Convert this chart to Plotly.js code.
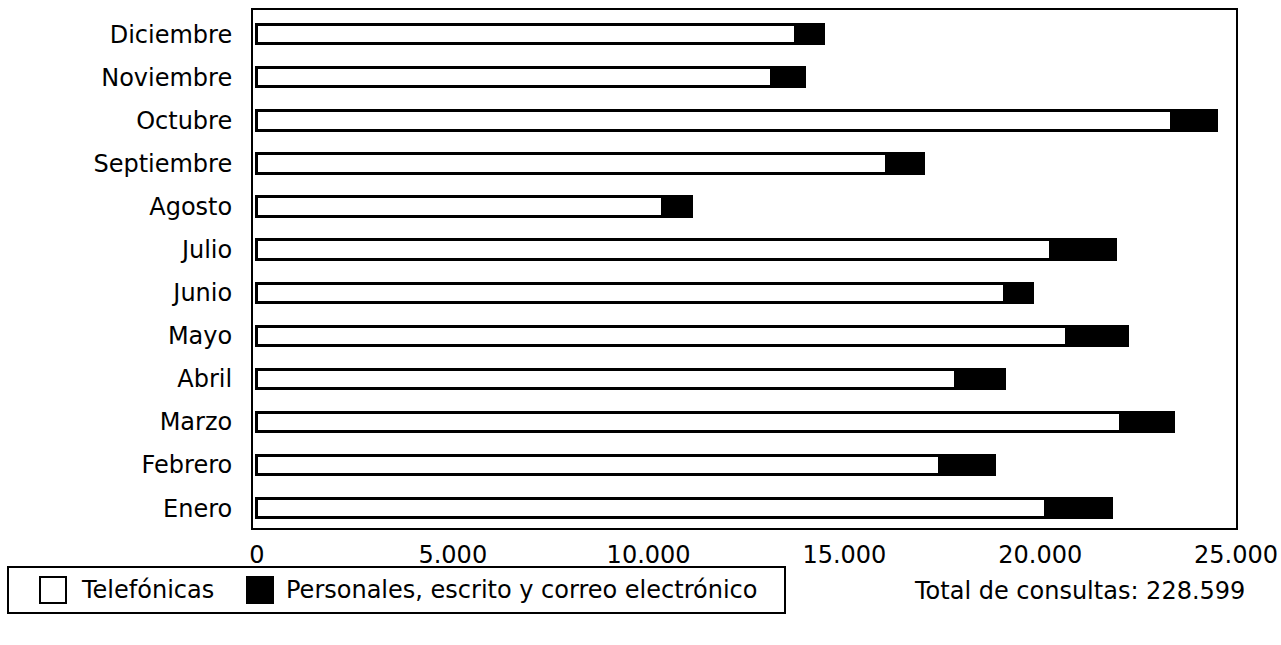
<!DOCTYPE html>
<html>
<head>
<meta charset="utf-8">
<script src="https://cdn.plot.ly/plotly-3.0.1.min.js"></script>
<style>
  html, body { margin: 0; padding: 0; background: #fff; }
  #chart { width: 1281px; height: 645px; }
</style>
</head>
<body>
<div id="chart"></div>
<script>
const months = ["Enero", "Febrero", "Marzo", "Abril", "Mayo", "Junio",
                "Julio", "Agosto", "Septiembre", "Octubre", "Noviembre", "Diciembre"];
const telefonicas = [20130, 17440, 22040, 17830, 20660, 19080,
                     20270, 10350, 16080, 23360, 13130, 13760];
const personales = [1700, 1390, 1360, 1250, 1560, 730,
                    1660, 740, 930, 1140, 850, 700];
const xTicks = [0, 5000, 10000, 15000, 20000, 25000];
const seriesNames = ["Telefónicas", "Personales, escrito y correo electrónico"];
const totalText = "Total de consultas: 228.599";

const FONT = "DejaVu Sans, Liberation Sans, Arial, sans-serif";
const FS = 24;

// plot-area geometry in pixels (for placing the legend box and note)
const W = 1281, H = 645;
const M = { l: 253, r: 45, t: 10, b: 117 };
const PW = W - M.l - M.r, PH = H - M.t - M.b;
const px = x => (x - M.l) / PW;          // page px -> paper x
const py = y => (H - M.b - y) / PH;      // page px -> paper y

const traces = [
  {
    type: "bar", orientation: "h", name: seriesNames[0],
    y: months, x: telefonicas,
    marker: { color: "#ffffff", line: { color: "#000000", width: 3 } },
    hoverinfo: "x+y"
  },
  {
    type: "bar", orientation: "h", name: seriesNames[1],
    y: months, x: personales,
    marker: { color: "#000000", line: { color: "#000000", width: 3 } },
    hoverinfo: "x+y"
  }
];

const legendBox = { x0: 8, x1: 785, y0: 567, y1: 613 };
const sw1 = { x0: 40, x1: 66, y0: 577, y1: 603 };
const sw2 = { x0: 247, x1: 273, y0: 577, y1: 603 };

const layout = {
  width: W, height: H,
  margin: M,
  paper_bgcolor: "#ffffff", plot_bgcolor: "#ffffff",
  font: { family: FONT, size: FS, color: "#000000" },
  separators: ",.",
  barmode: "stack",
  bargap: 0.55,
  showlegend: false,
  xaxis: {
    range: [-102, 25000],
    tickvals: xTicks,
    tickformat: ",d",
    showgrid: false, zeroline: false,
    showline: true, mirror: true, linecolor: "#000000", linewidth: 2,
    ticks: "outside", ticklen: 4, tickcolor: "rgba(0,0,0,0)",
    ticklabeloverflow: "allow",
    tickfont: { family: FONT, size: FS, color: "#000000" },
    fixedrange: true
  },
  yaxis: {
    type: "category",
    categoryorder: "array", categoryarray: months,
    range: [-0.46, 11.56],
    showgrid: false, zeroline: false,
    showline: true, mirror: true, linecolor: "#000000", linewidth: 2,
    ticks: "outside", ticklen: 14, tickcolor: "rgba(0,0,0,0)",
    tickfont: { family: FONT, size: FS, color: "#000000" },
    fixedrange: true
  },
  shapes: [
    { type: "rect", xref: "paper", yref: "paper",
      x0: px(legendBox.x0), x1: px(legendBox.x1), y0: py(legendBox.y1), y1: py(legendBox.y0),
      line: { color: "#000000", width: 2 }, fillcolor: "#ffffff", layer: "below" },
    { type: "rect", xref: "paper", yref: "paper",
      x0: px(sw1.x0), x1: px(sw1.x1), y0: py(sw1.y1), y1: py(sw1.y0),
      line: { color: "#000000", width: 2 }, fillcolor: "#ffffff" },
    { type: "rect", xref: "paper", yref: "paper",
      x0: px(sw2.x0), x1: px(sw2.x1), y0: py(sw2.y1), y1: py(sw2.y0),
      line: { color: "#000000", width: 2 }, fillcolor: "#000000" }
  ],
  annotations: [
    {
      text: seriesNames[0], xref: "paper", yref: "paper",
      x: px(79), y: py(590), xanchor: "left", yanchor: "middle",
      showarrow: false, font: { family: FONT, size: FS, color: "#000000" }
    },
    {
      text: seriesNames[1], xref: "paper", yref: "paper",
      x: px(284), y: py(590), xanchor: "left", yanchor: "middle",
      showarrow: false, font: { family: FONT, size: FS, color: "#000000" }
    },
    {
      text: totalText, xref: "paper", yref: "paper",
      x: px(1247), y: py(591), xanchor: "right", yanchor: "middle",
      showarrow: false, font: { family: FONT, size: FS, color: "#000000" }
    }
  ]
};

Plotly.newPlot("chart", traces, layout, { displayModeBar: false, staticPlot: true });
</script>
</body>
</html>
